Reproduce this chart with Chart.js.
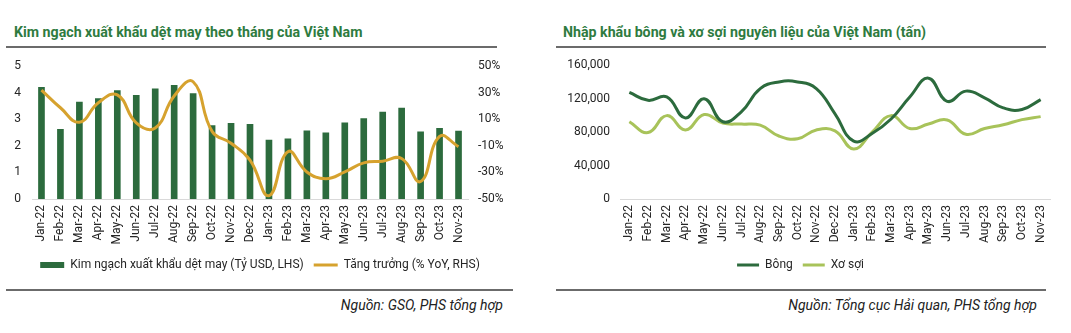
<!DOCTYPE html>
<html>
<head>
<meta charset="utf-8">
<script src="https://cdn.jsdelivr.net/npm/chart.js@4.4.0/dist/chart.umd.min.js"></script>
<style>
  html, body { margin: 0; padding: 0; background: #fff; width: 1071px; height: 333px; overflow: hidden; font-family: Roboto, "Noto Sans", sans-serif; }
  .title { position: absolute; font-size: 14.2px; font-weight: bold; color: #2E7B40; white-space: nowrap; line-height: 18px; }
  .rule { position: absolute; height: 2px; background: #6b6b6b; }
  .src { position: absolute; font-size: 14px; font-style: italic; color: #222; white-space: nowrap; text-align: right; line-height: 18px; }
  .box { position: absolute; }
</style>
</head>
<body>
<div class="title" style="left:14px; top:23px;">Kim ngạch xuất khẩu dệt may theo tháng của Việt Nam</div>
<div class="rule" style="left:6px; top:46px; width:491px;"></div>
<div class="box" style="left:0; top:48px; width:515px; height:233px;"><canvas id="c1"></canvas></div>
<div class="rule" style="left:6px; top:289px; width:507px;"></div>
<div class="src" style="right:568px; top:296px;">Nguồn: GSO, PHS tổng hợp</div>

<div class="title" style="left:563px; top:23px;">Nhập khẩu bông và xơ sợi nguyên liệu của Việt Nam (tấn)</div>
<div class="rule" style="left:556px; top:46px; width:490px;"></div>
<div class="box" style="left:530px; top:48px; width:541px; height:233px;"><canvas id="c2"></canvas></div>
<div class="rule" style="left:556px; top:289px; width:490px;"></div>
<div class="src" style="right:34px; top:296px;">Nguồn: Tổng cục Hải quan, PHS tổng hợp</div>

<script>
const months = ["Jan-22","Feb-22","Mar-22","Apr-22","May-22","Jun-22","Jul-22","Aug-22","Sep-22","Oct-22","Nov-22","Dec-22",
                "Jan-23","Feb-23","Mar-23","Apr-23","May-23","Jun-23","Jul-23","Aug-23","Sep-23","Oct-23","Nov-23"];
const exportValue = [4.20,2.62,3.65,3.78,4.08,3.90,4.15,4.28,3.97,2.76,2.85,2.81,
                     2.22,2.27,2.57,2.49,2.87,3.03,3.27,3.42,2.53,2.66,2.56];
const exportGrowth = [32,18.7,7.8,22.5,28.4,7.3,3.4,27.6,38.3,0.9,-8,-20.7,
                      -47.5,-14.4,-29.6,-34.7,-29.6,-22.8,-21.5,-19.5,-36.8,-2.9,-10.6];
const cottonImport = [127400,118000,122000,96900,120000,92400,104600,132000,140000,140000,132000,101800,
                      69200,78600,95700,122000,144500,116800,129000,121000,109000,107000,118900];
const fiberImport = [92400,79400,99700,82600,101000,90800,89600,88300,75300,72000,82600,81400,
                     59800,80200,99700,84300,89600,94500,77400,84300,88700,94900,98500];
const leftTicks = [0,1,2,3,4,5];
const rightTicks = [-50,-30,-10,10,30,50];
const volumeTicks = [0,40000,80000,120000,160000];

const FONT = "Roboto";
const TXT = "#262626";
Chart.defaults.font.family = FONT;
Chart.defaults.font.size = 12;
Chart.defaults.color = TXT;
Chart.defaults.animation = false;

const GREEN = "#2C6B3D";
const GOLD = "#D6A22E";
const LIGHT = "#A8C35A";

const xAxis = {
  type: "category",
  offset: true,
  grid: { display: false, drawTicks: false },
  border: { display: true, color: "#d9d9d9", width: 1 },
  ticks: { minRotation: 90, maxRotation: 90, autoSkip: false, padding: 6, color: TXT, font: { size: 12 } },
  afterFit: s => { s.height = 50; }
};

new Chart(document.getElementById("c1"), {
  data: {
    labels: months,
    datasets: [
      { type: "bar", label: "Kim ngạch xuất khẩu dệt may (Tỷ USD, LHS)", data: exportValue,
        backgroundColor: GREEN, borderWidth: 0, barThickness: 6, yAxisID: "y", order: 2, pointStyle: "rect" },
      { type: "line", label: "Tăng trưởng (% YoY, RHS)", data: exportGrowth,
        borderColor: GOLD, backgroundColor: GOLD, borderWidth: 3, pointRadius: 0, tension: 0.45,
        yAxisID: "y1", order: 1, pointStyle: "line" }
    ]
  },
  options: {
    responsive: true, maintainAspectRatio: false,
    layout: { padding: { top: 3, left: 5, right: 0, bottom: 0 } },
    plugins: {
      legend: { position: "bottom",
        labels: { usePointStyle: true, pointStyleWidth: 24, boxHeight: 6, padding: 10, color: TXT, font: { size: 12 },
          sort: (a, b) => a.datasetIndex - b.datasetIndex } },
      tooltip: { enabled: false }
    },
    scales: {
      x: xAxis,
      y: { position: "left", min: 0, max: 5,
        grid: { display: false, drawTicks: false }, border: { display: false },
        ticks: { stepSize: 1, padding: 11, color: TXT },
        afterBuildTicks: s => { s.ticks = leftTicks.map(v => ({ value: v })); },
        afterFit: s => { s.width = 27; } },
      y1: { position: "right", min: -50, max: 50,
        grid: { display: false, drawTicks: false }, border: { display: false },
        ticks: { stepSize: 20, padding: 10, color: TXT, callback: v => v + "%" },
        afterBuildTicks: s => { s.ticks = rightTicks.map(v => ({ value: v })); },
        afterFit: s => { s.width = 47; } }
    }
  }
});

new Chart(document.getElementById("c2"), {
  type: "line",
  data: {
    labels: months,
    datasets: [
      { label: "Bông", data: cottonImport, borderColor: GREEN, backgroundColor: GREEN,
        borderWidth: 3, pointRadius: 0, tension: 0.45, pointStyle: "line" },
      { label: "Xơ sợi", data: fiberImport, borderColor: LIGHT, backgroundColor: LIGHT,
        borderWidth: 3, pointRadius: 0, tension: 0.45, pointStyle: "line" }
    ]
  },
  options: {
    responsive: true, maintainAspectRatio: false,
    layout: { padding: { top: 3, left: 21, right: 21, bottom: 0 } },
    plugins: {
      legend: { position: "bottom",
        labels: { usePointStyle: true, pointStyleWidth: 22, boxHeight: 6, padding: 10, color: TXT, font: { size: 12 } } },
      tooltip: { enabled: false }
    },
    scales: {
      x: xAxis,
      y: { position: "left", min: 0, max: 160000,
        grid: { display: false, drawTicks: false }, border: { display: false },
        ticks: { stepSize: 40000, padding: 10, color: TXT, callback: v => v.toLocaleString("en-US") },
        afterBuildTicks: s => { s.ticks = volumeTicks.map(v => ({ value: v })); },
        afterFit: s => { s.width = 69; } }
    }
  }
});
</script>
</body>
</html>
